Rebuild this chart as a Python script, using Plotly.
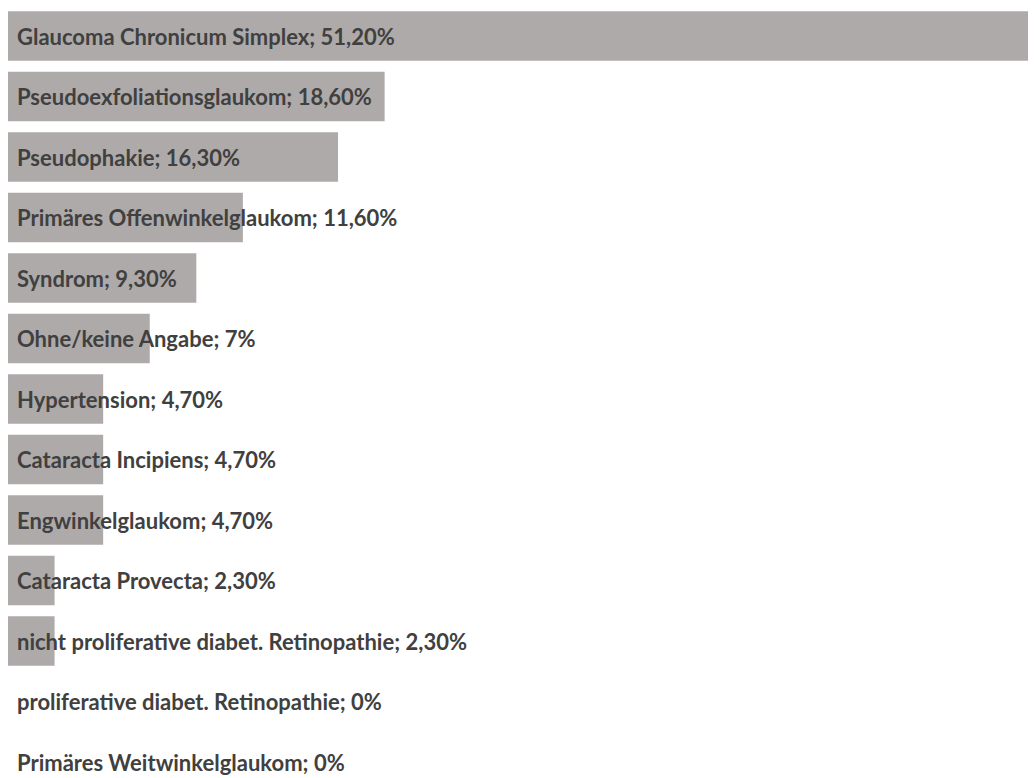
import plotly.graph_objects as go

categories = [
    "Glaucoma Chronicum Simplex",
    "Pseudoexfoliationsglaukom",
    "Pseudophakie",
    "Primäres Offenwinkelglaukom",
    "Syndrom",
    "Ohne/keine Angabe",
    "Hypertension",
    "Cataracta Incipiens",
    "Engwinkelglaukom",
    "Cataracta Provecta",
    "nicht proliferative diabet. Retinopathie",
    "proliferative diabet. Retinopathie",
    "Primäres Weitwinkelglaukom",
]
values = [51.2, 18.6, 16.3, 11.6, 9.3, 7.0, 4.7, 4.7, 4.7, 2.3, 2.3, 0.0, 0.0]
value_labels = ["51,20%", "18,60%", "16,30%", "11,60%", "9,30%", "7%", "4,70%",
                "4,70%", "4,70%", "2,30%", "2,30%", "0%", "0%"]

positions = list(range(len(categories)))

fig = go.Figure()
fig.add_trace(go.Bar(
    x=values,
    y=positions,
    orientation="h",
    marker=dict(color="#AEAAA9", line=dict(width=0)),
    width=0.82,
    hoverinfo="skip",
))

for pos, cat, lab in zip(positions, categories, value_labels):
    fig.add_annotation(
        x=0, y=pos, xref="x", yref="y",
        text=f"<b>{cat}; {lab}</b>",
        showarrow=False, xanchor="left", yanchor="middle", xshift=7,
        font=dict(family="Lato", size=22, color="#404040"),
    )

fig.update_layout(
    width=1028, height=770,
    margin=dict(l=0, r=0, t=0, b=0),
    paper_bgcolor="white", plot_bgcolor="white",
    showlegend=False,
    xaxis=dict(range=[0, 50.77], visible=False, fixedrange=True),
    yaxis=dict(range=[12.264, -0.463], visible=False, fixedrange=True),
)

fig.write_html("out.html")
